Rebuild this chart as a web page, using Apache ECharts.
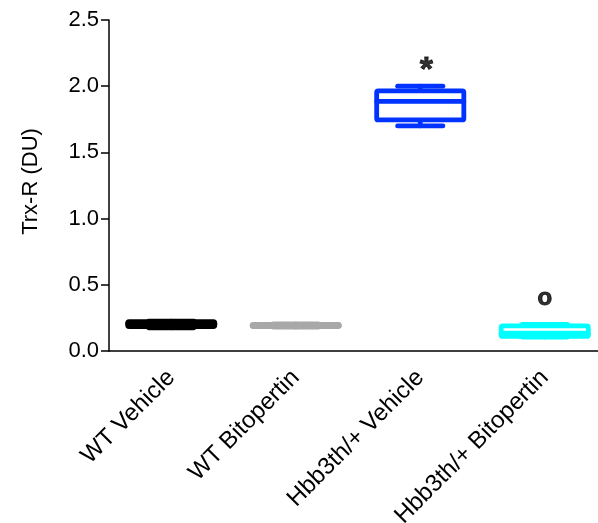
<!DOCTYPE html>
<html>
<head>
<meta charset="utf-8">
<script src="https://cdn.jsdelivr.net/npm/echarts@6/dist/echarts.min.js"></script>
<style>
  html, body { margin: 0; padding: 0; background: #fff; }
  #chart { width: 598px; height: 523px; }
</style>
</head>
<body>
<div id="chart"></div>
<script>
// Group names along the x axis
const categories = ['WT Vehicle', 'WT Bitopertin', 'Hbb3th/+ Vehicle', 'Hbb3th/+ Bitopertin'];
// Box-and-whisker summary per group (Trx-R, DU)
const minVals    = [0.175, 0.180, 1.700, 0.105];
const q1Vals     = [0.185, 0.185, 1.745, 0.110];
const medianVals = [0.205, 0.190, 1.885, 0.135];
const q3Vals     = [0.222, 0.200, 1.965, 0.190];
const maxVals    = [0.225, 0.205, 2.000, 0.200];
// Significance marks shown above each box
const marks = ['', '', '*', 'o'];
// Y axis ticks
const yTicks = [0, 0.5, 1.0, 1.5, 2.0, 2.5];

const boxColors = ['#000000', '#a8a8a8', '#0033ff', '#00ffff'];
const FONT = 'Liberation Sans, Arial, Helvetica, sans-serif';

const boxData = categories.map((c, i) => [i, minVals[i], q1Vals[i], medianVals[i], q3Vals[i], maxVals[i]]);

function renderBox(params, api) {
  const i = api.value(0);
  const pMin = api.coord([i, api.value(1)]);
  const pQ1 = api.coord([i, api.value(2)]);
  const pMed = api.coord([i, api.value(3)]);
  const pQ3 = api.coord([i, api.value(4)]);
  const pMax = api.coord([i, api.value(5)]);
  const band = api.size([1, 0])[0];
  const bw = band * 0.7;
  const cw = bw * 0.52;
  const cx = pMed[0];
  const color = boxColors[params.dataIndex];
  const st = { stroke: color, lineWidth: 4.8, lineCap: 'round', lineJoin: 'round', fill: null };
  return {
    type: 'group',
    children: [
      { type: 'line', shape: { x1: cx, y1: pQ3[1], x2: cx, y2: pMax[1] }, style: st },
      { type: 'line', shape: { x1: cx, y1: pQ1[1], x2: cx, y2: pMin[1] }, style: st },
      { type: 'rect', shape: { x: cx - bw / 2, y: pQ3[1], width: bw, height: pQ1[1] - pQ3[1], r: 1.5 },
        style: { stroke: color, lineWidth: 4.8, lineJoin: 'round', fill: '#ffffff' } },
      { type: 'line', shape: { x1: cx - bw / 2, y1: pMed[1], x2: cx + bw / 2, y2: pMed[1] }, style: st },
      { type: 'line', shape: { x1: cx - cw / 2, y1: pMax[1], x2: cx + cw / 2, y2: pMax[1] }, style: st },
      { type: 'line', shape: { x1: cx - cw / 2, y1: pMin[1], x2: cx + cw / 2, y2: pMin[1] }, style: st }
    ]
  };
}

const markData = categories.map((c, i) => ({
  value: [i, maxVals[i]],
  label: marks[i] === '*'
    ? { fontSize: 34, fontWeight: 'bold', offset: [6, 9], textBorderColor: '#000', textBorderWidth: 0.8 }
    : { fontSize: 24, fontWeight: 'bold', offset: [0, -6], textBorderColor: '#000', textBorderWidth: 1 }
}));

const chart = echarts.init(document.getElementById('chart'), null, { renderer: 'canvas' });
chart.setOption({
  animation: false,
  backgroundColor: '#ffffff',
  grid: { left: 109, top: 20, width: 498, height: 331, containLabel: false, outerBoundsMode: 'none' },
  xAxis: {
    type: 'category',
    data: categories,
    boundaryGap: true,
    axisLine: { lineStyle: { color: '#000', width: 1.5 } },
    axisTick: { alignWithLabel: true, length: 8, lineStyle: { color: '#000', width: 1.5 } },
    axisLabel: { rotate: 45, margin: 23, color: '#000', fontSize: 24, fontFamily: FONT, interval: 0 },
    splitLine: { show: false }
  },
  yAxis: {
    type: 'value',
    min: yTicks[0],
    max: yTicks[yTicks.length - 1],
    interval: yTicks[1] - yTicks[0],
    name: 'Trx-R (DU)',
    nameLocation: 'middle',
    nameGap: 67,
    nameTextStyle: { color: '#000', fontSize: 22, fontFamily: FONT, padding: [0, 0, 0, 8] },
    axisLine: { show: true, lineStyle: { color: '#000', width: 1.5 } },
    axisTick: { show: true, length: 8, lineStyle: { color: '#000', width: 1.5 } },
    axisLabel: { color: '#000', fontSize: 22, fontFamily: FONT, margin: 10, formatter: v => v.toFixed(1) },
    splitLine: { show: false }
  },
  series: [
    {
      type: 'custom',
      renderItem: renderBox,
      encode: { x: 0, y: [1, 2, 3, 4, 5] },
      data: boxData,
      z: 2
    },
    {
      type: 'scatter',
      symbolSize: 0,
      data: markData,
      z: 3,
      label: {
        show: true,
        position: 'top',
        distance: 8,
        color: '#000',
        fontFamily: FONT,
        formatter: p => marks[p.dataIndex]
      }
    }
  ]
});
</script>
</body>
</html>
